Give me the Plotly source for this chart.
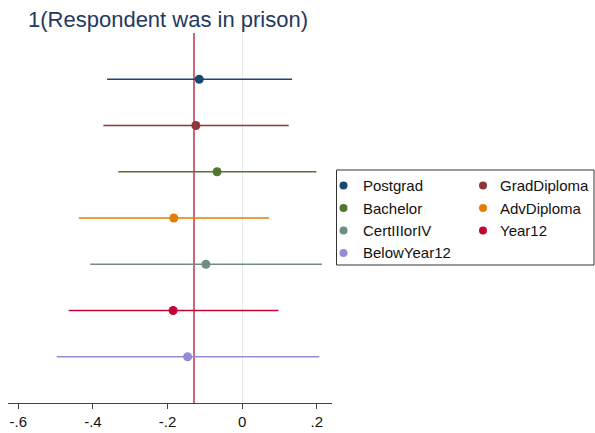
import plotly.graph_objects as go

# ---- data ----
categories = ["Postgrad", "GradDiploma", "Bachelor", "AdvDiploma",
              "CertIIIorIV", "Year12", "BelowYear12"]
estimates = [-0.115, -0.124, -0.067, -0.183, -0.097, -0.185, -0.146]
lower = [-0.362, -0.372, -0.332, -0.438, -0.407, -0.465, -0.497]
upper = [0.134, 0.125, 0.199, 0.072, 0.214, 0.097, 0.207]
reference_value = -0.129
tick_values = [-0.6, -0.4, -0.2, 0.0, 0.2]
tick_labels = ["-.6", "-.4", "-.2", "0", ".2"]
title_text = "1(Respondent was in prison)"

colors = ["#1a476f", "#90353b", "#55752f", "#e37e00",
          "#6e8e84", "#c10534", "#938dd2"]

W, H = 595, 433
ML, MR, MT, MB = 8, 263, 33, 30
PW, PH = W - ML - MR, H - MT - MB

def px_to_paper_x(px):
    return (px - ML) / PW

def px_to_paper_y(py):
    return (H - MB - py) / PH

n = len(categories)
fig = go.Figure()
for i, cat in enumerate(categories):
    pos = n - i
    fig.add_trace(go.Scatter(
        x=[estimates[i]], y=[pos], mode="markers", name=cat,
        marker=dict(color=colors[i], size=9),
        error_x=dict(type="data", symmetric=False,
                     array=[upper[i] - estimates[i]],
                     arrayminus=[estimates[i] - lower[i]],
                     color=colors[i], thickness=1.5, width=0),
        showlegend=False,
    ))

shapes = [dict(type="line", xref="x", yref="paper", x0=reference_value,
               x1=reference_value, y0=0, y1=1,
               line=dict(color="#c4304f", width=1.5), layer="below")]

# manual two-column legend
lx0, ly0, lx1, ly1 = 336.5, 170, 594, 265
shapes.append(dict(type="rect", xref="paper", yref="paper",
                   x0=px_to_paper_x(lx0), x1=px_to_paper_x(lx1),
                   y0=px_to_paper_y(ly1), y1=px_to_paper_y(ly0),
                   line=dict(color="#333333", width=1), fillcolor="white",
                   layer="above"))
annotations = []
col_sym = [343.5, 483]
col_txt = [361, 497.5]
row_y = [185.5, 208, 230.5, 253]
for i, cat in enumerate(categories):
    r, c = divmod(i, 2)
    sx, sy = px_to_paper_x(col_sym[c]), px_to_paper_y(row_y[r])
    shapes.append(dict(type="circle", xref="paper", yref="paper",
                       xsizemode="pixel", ysizemode="pixel",
                       xanchor=sx, yanchor=sy, x0=-4, x1=4, y0=-4, y1=4,
                       fillcolor=colors[i], line=dict(width=0), layer="above"))
    annotations.append(dict(text=cat, xref="paper", yref="paper",
                            x=px_to_paper_x(col_txt[c]), y=sy,
                            xanchor="left", yanchor="middle", showarrow=False,
                            font=dict(size=15, color="#111111")))

fig.update_layout(
    width=W, height=H,
    margin=dict(l=ML, r=MR, t=MT, b=MB, autoexpand=False),
    paper_bgcolor="white", plot_bgcolor="white",
    font=dict(family="Liberation Sans, Arial, Helvetica, sans-serif"),
    title=dict(text=title_text, x=28 / W, xref="container",
               xanchor="left", y=1 - 19 / H, yanchor="middle",
               font=dict(size=22, color="#24395f")),
    xaxis=dict(range=[-0.6276, 0.241], tickvals=tick_values,
               ticktext=tick_labels, showgrid=False,
               zeroline=True, zerolinecolor="#e4ecee", zerolinewidth=1,
               showline=True, linecolor="#444444", linewidth=1,
               ticks="outside", ticklen=5, tickcolor="#444444",
               tickfont=dict(size=15, color="#111111")),
    yaxis=dict(range=[0, 8], visible=False),
    shapes=shapes, annotations=annotations,
    showlegend=False,
)

fig.write_html("out.html",
               config={"displayModeBar": False},
               post_script="document.body.style.margin='0';"
                           "document.body.style.overflow='hidden';")
